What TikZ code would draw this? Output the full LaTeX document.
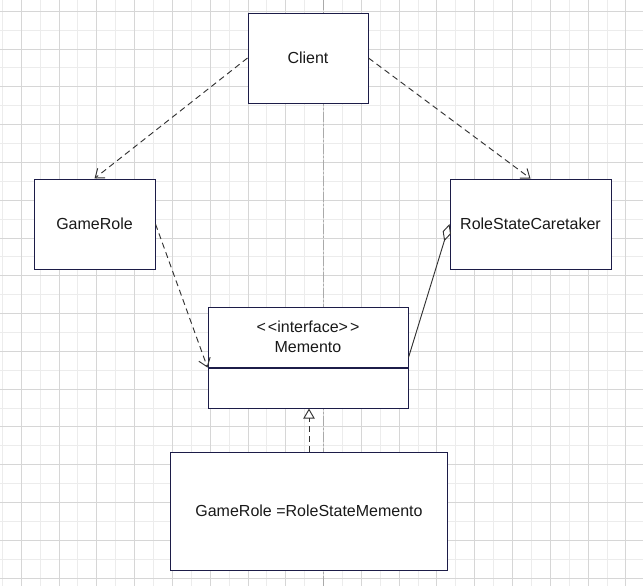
\documentclass[tikz,border=0pt]{standalone}
\usepackage{fontspec}
\setmainfont{Liberation Sans}
\usepackage{tikz}
\usetikzlibrary{arrows.meta}
\usetikzlibrary{positioning}
\usetikzlibrary{calc}
\definecolor{boxline}{RGB}{28,28,72}
\definecolor{conn}{RGB}{50,50,50}
\definecolor{gridmajor}{RGB}{214,214,214}
\definecolor{gridminor}{RGB}{236,236,236}
\definecolor{axisline}{RGB}{170,170,170}
\definecolor{txt}{RGB}{25,25,25}

\begin{document}
\begin{tikzpicture}[x=0.75pt, y=0.75pt,
				classbox/.style={draw=boxline, fill=white, rectangle, line width=0.75pt, inner sep=2pt, text=txt, font=\fontsize{12}{15}\selectfont},
				every text node part/.style={align=center},
				dep/.style={draw=conn, line width=0.7pt, dash pattern=on 4.5pt off 3pt, -{Straight Barb[length=6pt,width=9pt]}},
				agg/.style={draw=conn, line width=0.7pt, {Diamond[open,length=13.5pt,width=6.5pt]}-},
				real/.style={draw=conn, line width=0.7pt, dash pattern=on 4.5pt off 3pt, -{Triangle[open,length=7.5pt,width=8.5pt]}}]
				\useasboundingbox (0,0) rectangle (643,-586);
				% grid
				\foreach \k in {0,...,33} \draw[gridminor, line width=0.75pt] ({2.4+18.895*\k},0) -- ++(0,-586);
				\foreach \k in {0,...,30} \draw[gridminor, line width=0.75pt] (0,{-11.3-18.895*\k}) -- ++(643,0);
				\foreach \k in {0,...,16} \draw[gridmajor, line width=0.75pt] ({21.3+37.79*\k},0) -- ++(0,-586);
				\foreach \k in {0,...,15} \draw[gridmajor, line width=0.75pt] (0,{-11.3-37.79*\k}) -- ++(643,0);
				\draw[axisline, line width=0.75pt, dash pattern=on 7.5pt off 1.5pt on 1.5pt off 1.5pt] (323.6,0) -- (323.6,-586);
				
				\node[classbox, minimum width=90pt, minimum height=67.5pt](client) at (308, -58) {Client};
				
				\node[classbox, minimum width=90.75pt, minimum height=67.5pt](role) at (94.5, -224) {GameRole};
				\draw[dep] (client.west) -- (role.north);
				
				\node[classbox, minimum width=120.75pt, minimum height=67.5pt](caretaker) at (530.5, -224) {RoleStateCaretaker};
				\draw[dep] (client.east) -- (caretaker.north);
				
				\node[classbox, minimum width=150pt, minimum height=45pt](mementoHead) at (308, -337) {<\kern1.5pt<interface>\kern1.5pt>\\Memento};
				\node[classbox, minimum width=150pt, minimum height=30pt, below=0pt of mementoHead](mementoBody) {};
				\coordinate (mementoJoin) at ($(mementoHead.south east)+(0,10)$);
				\draw[dep] (role.east) -- (mementoHead.south west);
				\draw[agg] (caretaker.west) -- (mementoJoin);
				
				\node[classbox, minimum width=207.75pt, minimum height=88.5pt](concrete) at (309, -511) {GameRole =RoleStateMemento};
				\draw[real] (concrete.north) -- (concrete.north |- mementoBody.south);
			\end{tikzpicture}
\end{document}
